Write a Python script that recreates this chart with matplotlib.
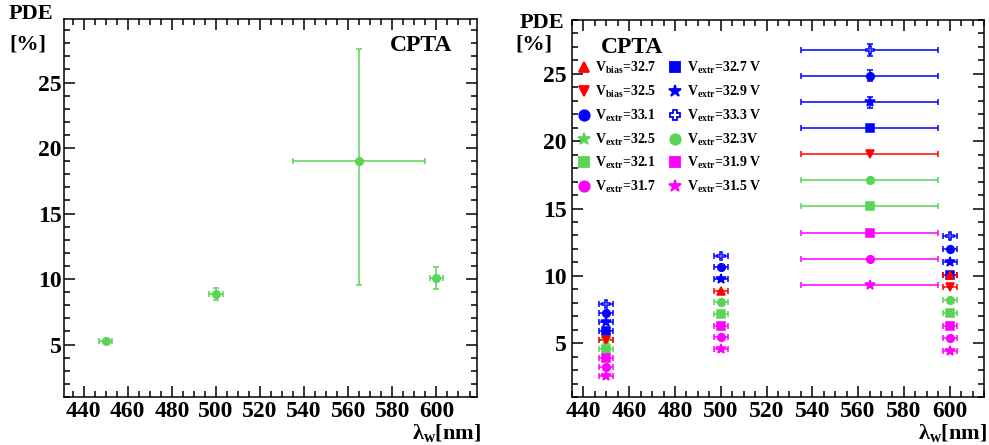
import numpy as np
import matplotlib
matplotlib.use('Agg')
import matplotlib.pyplot as plt
from matplotlib.lines import Line2D

#Шрифты в стиле ROOT (Times bold)
plt.rcParams['font.family'] = ['Liberation Serif', 'DejaVu Serif']
plt.rcParams['font.weight'] = 'bold'
plt.rcParams['mathtext.fontset'] = 'custom'
plt.rcParams['mathtext.rm'] = 'Liberation Serif:bold'
plt.rcParams['mathtext.it'] = 'Liberation Serif:bold'
plt.rcParams['mathtext.bf'] = 'Liberation Serif:bold'

GREEN = '#59d454'
RED = '#ff0000'
BLUE = '#0000ff'
MAGENTA = '#ff00ff'

#Левый график - одна серия
wl = np.array([450, 500, 565, 600])
wl_err = np.array([3, 3, 30, 3])
pde_left = np.array([5.24, 8.89, 19.03, 10.07])
pde_left_lo = np.array([0.15, 0.45, 9.45, 0.85])
pde_left_hi = np.array([0.15, 0.45, 8.5, 0.85])

#Правый график - серии по напряжениям (nan - точки нет)
nan = np.nan
labels = ['V$_{\\rm bias}$=32.7', 'V$_{\\rm bias}$=32.5', 'V$_{\\rm extr}$=33.1',
          'V$_{\\rm extr}$=32.5', 'V$_{\\rm extr}$=32.1', 'V$_{\\rm extr}$=31.7',
          'V$_{\\rm extr}$=32.7 V', 'V$_{\\rm extr}$=32.9 V', 'V$_{\\rm extr}$=33.3 V',
          'V$_{\\rm extr}$=32.3V', 'V$_{\\rm extr}$=31.9 V', 'V$_{\\rm extr}$=31.5 V']
values = [
    [nan, 8.87, nan, 10.08],     # bias 32.7
    [5.24, nan, 19.05, 9.16],    # bias 32.5
    [7.26, 10.63, 24.86, 11.97], # extr 33.1
    [5.24, nan, nan, nan],       # extr 32.5
    [4.57, 7.17, 15.15, 7.24],   # extr 32.1
    [3.22, 5.43, 11.28, 5.36],   # extr 31.7
    [5.91, nan, 20.98, 10.08],   # extr 32.7
    [6.59, 9.77, 22.90, 11.01],  # extr 32.9
    [7.93, 11.50, 26.80, 12.94], # extr 33.3
    [nan, 8.03, 17.10, 8.20],    # extr 32.3
    [3.89, 6.30, 13.20, 6.30],   # extr 31.9
    [2.57, 4.57, 9.35, 4.39],    # extr 31.5
]
yerrs = [
    [0, 0, 0, 0], [0, 0, 0, 0], [0, 0, 0.4, 0], [0, 0, 0, 0],
    [0, 0, 0, 0], [0, 0, 0, 0], [0, 0, 0, 0], [0, 0, 0.4, 0],
    [0, 0, 0.45, 0], [0, 0, 0, 0], [0, 0, 0, 0], [0, 0, 0, 0],
]
markers = ['^', 'v', 'o', '*', 's', 'o', 's', '*', 'P', 'o', 's', '*']
colors = [RED, RED, BLUE, GREEN, GREEN, MAGENTA, BLUE, BLUE, BLUE, GREEN, MAGENTA, MAGENTA]
#порядок отрисовки: красные сверху
order = [2, 3, 4, 5, 6, 7, 8, 9, 10, 11, 1, 0]

fig = plt.figure(figsize=(9.89, 4.45), dpi=100)
axL = fig.add_axes([64/989, 48/445, 413/989, 378/445])
axR = fig.add_axes([572/989, 48/445, 412/989, 377/445])

def style(ax, ypad):
    ax.tick_params(which='both', direction='in', top=True, right=True, width=1.1)
    ax.tick_params(which='major', length=8, labelsize=17)
    ax.tick_params(axis='x', which='major', pad=3)
    ax.tick_params(axis='y', which='major', pad=ypad)
    ax.tick_params(which='minor', length=4)
    ax.set_xticks(np.arange(440, 601, 20))
    ax.set_xticks(np.arange(435, 620, 5), minor=True)
    ax.set_yticks([5, 10, 15, 20, 25])
    ax.set_yticks(np.arange(1, 30, 1), minor=True)
    for s in ax.spines.values():
        s.set_linewidth(1.1)
    for lab in ax.get_xticklabels() + ax.get_yticklabels():
        lab.set_fontweight('bold')

#Левый
axL.errorbar(wl, pde_left, xerr=wl_err, yerr=[pde_left_lo, pde_left_hi], fmt='o',
             color=GREEN, ms=5.5, elinewidth=1.1, capsize=2, capthick=1.1)
axL.set_xlim(431.1, 618.4)
axL.set_ylim(2.94, 29.85)
style(axL, 1.5)
axL.text(0.94, 0.93, 'CPTA', transform=axL.transAxes, ha='right', va='center',
         fontsize=17, fontweight='bold')

#Правый
for i in order:
    mfc = 'white' if markers[i] == 'P' else colors[i]
    ms = 7.5 if markers[i] == '*' else 5.5
    axR.errorbar(wl, values[i], xerr=wl_err, yerr=yerrs[i], fmt=markers[i], color=colors[i],
                 mfc=mfc, mec=colors[i], ms=ms, mew=1.1, elinewidth=1.1, capsize=2, capthick=1.1)
axR.set_xlim(440, 610.9)
axR.set_ylim(1.29, 28.49)
style(axR, 4)
axR.text(0.07, 0.928, 'CPTA', transform=axR.transAxes, ha='left', va='center',
         fontsize=17, fontweight='bold')

handles = []
for i in range(len(labels)):
    mfc = 'white' if markers[i] == 'P' else colors[i]
    ms = 9 if markers[i] == '*' else 7.5
    handles.append(Line2D([], [], ls='none', marker=markers[i], color=colors[i], mfc=mfc,
                          mec=colors[i], ms=ms, mew=1.3))
axR.legend(handles, labels, ncol=2, loc='upper left', bbox_to_anchor=(0.012, 0.893),
           frameon=False, handlelength=1.0, handletextpad=0.3,
           columnspacing=0.9, labelspacing=0.55, borderaxespad=0, borderpad=0,
           prop={'weight': 'bold', 'size': 10})

#Подписи осей как в ROOT
fig.text(9/989, 1 - 4/445, 'PDE', ha='left', va='top', fontsize=16, fontweight='bold')
fig.text(9/989, 1 - 35/445, '[%]', ha='left', va='top', fontsize=16, fontweight='bold')
fig.text(520/989, 1 - 13/445, 'PDE', ha='left', va='top', fontsize=16, fontweight='bold')
fig.text(515/989, 1 - 35/445, '[%]', ha='left', va='top', fontsize=16, fontweight='bold')
fig.text(481/989, 0.5/445, 'λ$_{\\rm w}$[nm]', ha='right', va='bottom', fontsize=16, fontweight='bold')
fig.text(987/989, 0.5/445, 'λ$_{\\rm w}$[nm]', ha='right', va='bottom', fontsize=16, fontweight='bold')

fig.savefig('out.png', dpi=100)
